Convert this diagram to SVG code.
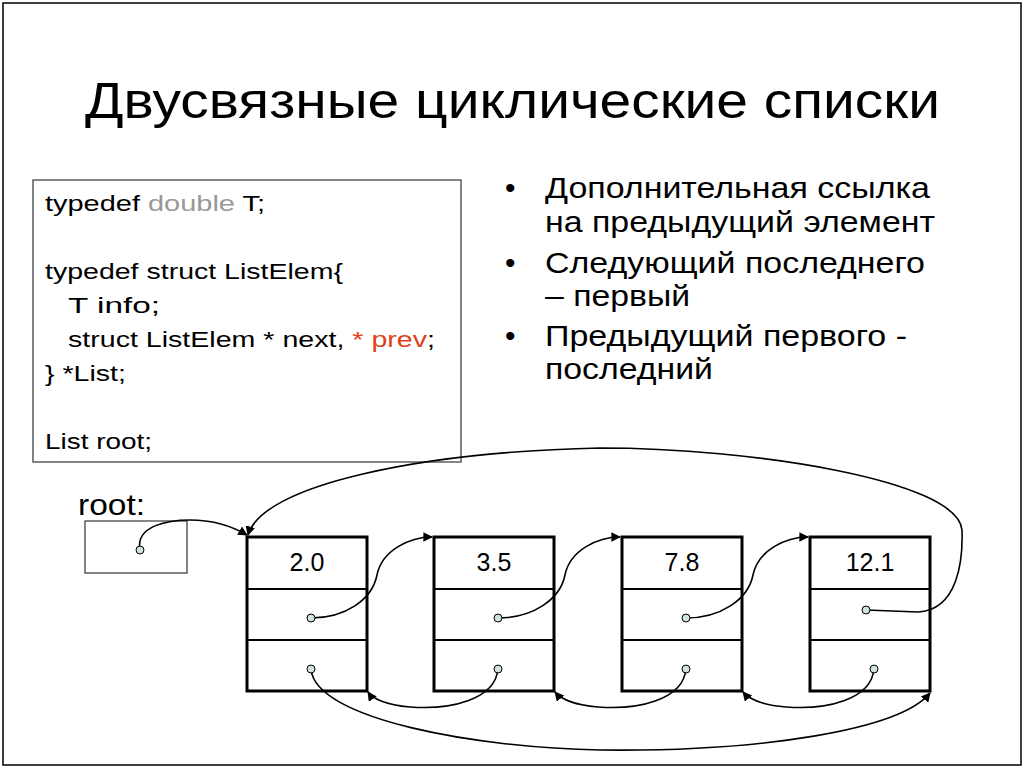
<svg xmlns="http://www.w3.org/2000/svg" width="1024" height="768" viewBox="0 0 1024 768">
<style>
text{font-family:"Liberation Sans",Arial,sans-serif;fill:#000}
.code{font-size:22px}
.bul{font-size:30px}
.node rect{fill:#fff;stroke:#000;stroke-width:3}
.node line{stroke:#000;stroke-width:2}
.val{font-size:25px;text-anchor:middle}
.dot{fill:#cfe3dc;stroke:#000;stroke-width:1}
.c path{fill:none;stroke:#000;stroke-width:1.6;marker-end:url(#ah)}
</style>
<defs><marker id="ah" viewBox="0 0 10 10" refX="9" refY="5" markerWidth="6" markerHeight="6" orient="auto"><path d="M0,0 L10,5 L0,10 z" fill="#000"/></marker></defs>
<rect x="0" y="0" width="1024" height="768" fill="#fff"/>
<rect x="3" y="3" width="1018" height="762" fill="none" stroke="#000" stroke-width="1.5"/>
<text x="85" y="118" font-size="50" textLength="855" lengthAdjust="spacingAndGlyphs">Двусвязные циклические списки</text>
<g id="code">
<rect x="33" y="180" width="428" height="282" fill="#fff" stroke="#444" stroke-width="1.3"/>
<text class="code" x="45" y="211" textLength="220" lengthAdjust="spacingAndGlyphs">typedef <tspan fill="#999">double</tspan> T;</text>
<text class="code" x="45" y="279" textLength="298" lengthAdjust="spacingAndGlyphs">typedef struct ListElem{</text>
<text class="code" x="68" y="313" textLength="92" lengthAdjust="spacingAndGlyphs">T info;</text>
<text class="code" x="68" y="347" textLength="367" lengthAdjust="spacingAndGlyphs">struct ListElem * next, <tspan fill="#e0401a">* prev</tspan>;</text>
<text class="code" x="45" y="381" textLength="81" lengthAdjust="spacingAndGlyphs">} *List;</text>
<text class="code" x="45" y="449" textLength="107" lengthAdjust="spacingAndGlyphs">List root;</text>
</g>
<g id="bullets">
<text class="bul" x="505" y="198">•</text><text class="bul" x="545" y="198" textLength="385" lengthAdjust="spacingAndGlyphs">Дополнительная ссылка</text>
<text class="bul" x="545" y="232" textLength="390" lengthAdjust="spacingAndGlyphs">на предыдущий элемент</text>
<text class="bul" x="505" y="273">•</text><text class="bul" x="545" y="273" textLength="380" lengthAdjust="spacingAndGlyphs">Следующий последнего</text>
<text class="bul" x="545" y="306" textLength="145" lengthAdjust="spacingAndGlyphs">– первый</text>
<text class="bul" x="505" y="346">•</text><text class="bul" x="545" y="346" textLength="362" lengthAdjust="spacingAndGlyphs">Предыдущий первого -</text>
<text class="bul" x="545" y="379" textLength="168" lengthAdjust="spacingAndGlyphs">последний</text>
</g>
<g id="root">
<text x="78" y="515" font-size="30" textLength="67" lengthAdjust="spacingAndGlyphs">root:</text>
<rect x="85" y="521" width="102" height="52" fill="#fff" stroke="#444" stroke-width="1.3"/>
</g>
<g id="n1" class="node"><rect x="247" y="537" width="120" height="154"/><line x1="247" y1="589" x2="367" y2="589"/><line x1="247" y1="640" x2="367" y2="640"/><text class="val" x="307" y="571">2.0</text></g>
<g id="n2" class="node"><rect x="434" y="537" width="120" height="154"/><line x1="434" y1="589" x2="554" y2="589"/><line x1="434" y1="640" x2="554" y2="640"/><text class="val" x="494" y="571">3.5</text></g>
<g id="n3" class="node"><rect x="622" y="537" width="120" height="154"/><line x1="622" y1="589" x2="742" y2="589"/><line x1="622" y1="640" x2="742" y2="640"/><text class="val" x="682" y="571">7.8</text></g>
<g id="n4" class="node"><rect x="810" y="537" width="120" height="154"/><line x1="810" y1="589" x2="930" y2="589"/><line x1="810" y1="640" x2="930" y2="640"/><text class="val" x="870" y="571">12.1</text></g>
<g id="connectors" class="c">
<path d="M140,550 C135,525 170,520 190,520 C215,520 235,528 247,535"/>
<path d="M311,618 C345,618 372,600 377,575 C382,550 410,537 432,537"/>
<path d="M498,618 C532,618 560,600 565,575 C570,550 598,537 620,537"/>
<path d="M686,618 C720,618 748,600 753,575 C758,550 786,537 808,537"/>
<path d="M498,669 C495,700 450,710 410,707 C385,705 372,698 368,692"/>
<path d="M686,669 C683,700 638,710 598,707 C573,705 560,698 555,692"/>
<path d="M874,669 C871,700 826,710 786,707 C761,705 748,698 743,692"/>
<path d="M866,610 L918,612 C958,610 963,560 962,530 C958,480 750,448 600,448 C420,452 262,485 248,535"/>
<path d="M311,669 C315,720 480,748 600,750 C760,752 900,730 930,693"/>
</g>
<g id="dots">
<circle class="dot" cx="140" cy="550" r="4"/>
<circle class="dot" cx="311" cy="618" r="4"/><circle class="dot" cx="311" cy="669" r="4"/>
<circle class="dot" cx="498" cy="618" r="4"/><circle class="dot" cx="498" cy="669" r="4"/>
<circle class="dot" cx="686" cy="618" r="4"/><circle class="dot" cx="686" cy="669" r="4"/>
<circle class="dot" cx="866" cy="610" r="4"/><circle class="dot" cx="874" cy="669" r="4"/>
</g>
</svg>
